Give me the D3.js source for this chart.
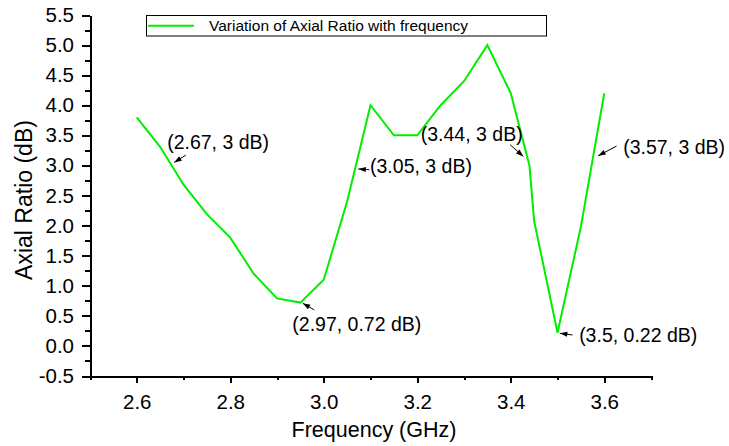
<!DOCTYPE html>
<html>
<head>
<meta charset="utf-8">
<title>Axial Ratio vs Frequency</title>
<style>
body { margin: 0; background: #fff; }
svg { display: block; font-family: "Liberation Sans", Arial, Helvetica, sans-serif; }
.axis path, .axis line { stroke: #000; stroke-width: 2px; shape-rendering: crispEdges; }
.axis text { fill: #000; font-size: 20.5px; }
</style>
</head>
<body>
<svg width="729" height="446"></svg>
<script src="https://d3js.org/d3.v7.min.js"></script>
<script>
// data
var freq = [2.6, 2.65, 2.7, 2.75, 2.8, 2.85, 2.9, 2.95, 3.0, 3.05, 3.1, 3.15, 3.2, 3.25, 3.3, 3.35, 3.4, 3.44, 3.45, 3.5, 3.55, 3.6];
var axialRatio = [3.8, 3.31, 2.68, 2.19, 1.8, 1.2, 0.79, 0.72, 1.1, 2.4, 4.0, 3.5, 3.5, 4.0, 4.4, 5.0, 4.2, 3.0, 2.08, 0.22, 1.98, 4.2];

var xTicks = [2.6, 2.8, 3.0, 3.2, 3.4, 3.6];
var xMinor = [2.5, 2.7, 2.9, 3.1, 3.3, 3.5, 3.7];
var yTicks = [-0.5, 0.0, 0.5, 1.0, 1.5, 2.0, 2.5, 3.0, 3.5, 4.0, 4.5, 5.0, 5.5];
var yMinor = [-0.25, 0.25, 0.75, 1.25, 1.75, 2.25, 2.75, 3.25, 3.75, 4.25, 4.75, 5.25];

// annotations: label text and the point each arrow touches
var annLabels = ["(2.67, 3 dB)", "(2.97, 0.72 dB)", "(3.05, 3 dB)", "(3.44, 3 dB)", "(3.5, 0.22 dB)", "(3.57, 3 dB)"];
var annFreq = [2.68, 2.955, 3.074, 3.427, 3.505, 3.587];
var annValue = [3.05, 0.71, 2.94, 3.15, 0.21, 3.16];

var legendLabel = "Variation of Axial Ratio with frequency";

// layout for the annotations (pixel offsets from arrow tip)
var tailOff = [[11.7, -7.3], [11.6, 6.7], [11, 0.7], [-13.3, -11.7], [12.7, 1.7], [18.4, -9.7]];
var textOff = [[-7, -13], [-10.4, 27.7], [11.7, 4.2], [-102.6, -15.7], [19.3, 9.2], [25, -1.7]];

var svg = d3.select("svg");

svg.append("rect").attr("width", 729).attr("height", 446).attr("fill", "#fff");

var x = d3.scaleLinear().domain([2.5, 3.7]).range([90, 651]);
var y = d3.scaleLinear().domain([-0.5, 5.5]).range([376, 15]);

var fmt = function(d) { return d.toFixed(1); };

//minor ticks first
svg.append("g")
    .attr("class", "axis")
    .attr("transform", "translate(0,376)")
    .call(d3.axisBottom(x).tickValues(xMinor).tickSize(4).tickFormat(""))
    .select(".domain").remove();

svg.append("g")
    .attr("class", "axis")
    .attr("transform", "translate(90,0)")
    .call(d3.axisLeft(y).tickValues(yMinor).tickSize(5).tickFormat(""))
    .select(".domain").remove();

// major ticks + labels
svg.append("g")
    .attr("class", "axis")
    .attr("transform", "translate(0,376)")
    .call(d3.axisBottom(x).tickValues(xTicks).tickSize(7).tickSizeOuter(0).tickPadding(11.5).tickFormat(fmt));

svg.append("g")
    .attr("class", "axis")
    .attr("transform", "translate(90,0)")
    .call(d3.axisLeft(y).tickValues(yTicks).tickSize(8).tickSizeOuter(0).tickPadding(8).tickFormat(fmt));

// axis titles
svg.append("text")
    .attr("x", 374)
    .attr("y", 436.5)
    .attr("text-anchor", "middle")
    .attr("font-size", "21.5px")
    .text("Frequency (GHz)");

svg.append("text")
    .attr("transform", "translate(32,200) rotate(-90)")
    .attr("text-anchor", "middle")
    .attr("font-size", "23px")
    .text("Axial Ratio (dB)");

// the curve
var line = d3.line()
    .x(function(d, i) { return x(freq[i]); })
    .y(function(d) { return y(d); });

svg.append("path")
    .datum(axialRatio)
    .attr("fill", "none")
    .attr("stroke", "#00ee00")
    .attr("stroke-width", 2)
    .attr("stroke-linejoin", "miter")
    .attr("d", line);

// arrowhead
svg.append("defs").append("marker")
    .attr("id", "arrow")
    .attr("markerUnits", "userSpaceOnUse")
    .attr("viewBox", "-8 -4 9 8")
    .attr("refX", 0)
    .attr("refY", 0)
    .attr("markerWidth", 9)
    .attr("markerHeight", 8)
    .attr("orient", "auto")
    .append("path")
    .attr("d", "M0,0L-7.5,-2.6L-7.5,2.6Z")
    .attr("fill", "#000");

var ann = svg.append("g").attr("class", "annotations");

annLabels.forEach(function(label, i) {
    var tx = x(annFreq[i]), ty = y(annValue[i]);
    ann.append("line")
        .attr("x1", tx + tailOff[i][0])
        .attr("y1", ty + tailOff[i][1])
        .attr("x2", tx)
        .attr("y2", ty)
        .attr("stroke", "#000")
        .attr("stroke-width", 1)
        .attr("marker-end", "url(#arrow)");
    ann.append("text")
        .attr("x", tx + textOff[i][0])
        .attr("y", ty + textOff[i][1])
        .attr("font-size", "19.5px")
        .attr("fill", "#000")
        .text(label);
});

// legend
var leg = svg.append("g").attr("class", "legend");
leg.append("rect")
    .attr("x", 146.5).attr("y", 15.5)
    .attr("width", 400).attr("height", 20.5)
    .attr("fill", "#fff")
    .attr("stroke", "#000")
    .attr("stroke-width", 1);
leg.append("line")
    .attr("x1", 148).attr("x2", 194)
    .attr("y1", 25.7).attr("y2", 25.7)
    .attr("stroke", "#00ee00")
    .attr("stroke-width", 2);
leg.append("text")
    .attr("x", 209)
    .attr("y", 31.3)
    .attr("font-size", "15.5px")
    .text(legendLabel);
</script>
</body>
</html>
